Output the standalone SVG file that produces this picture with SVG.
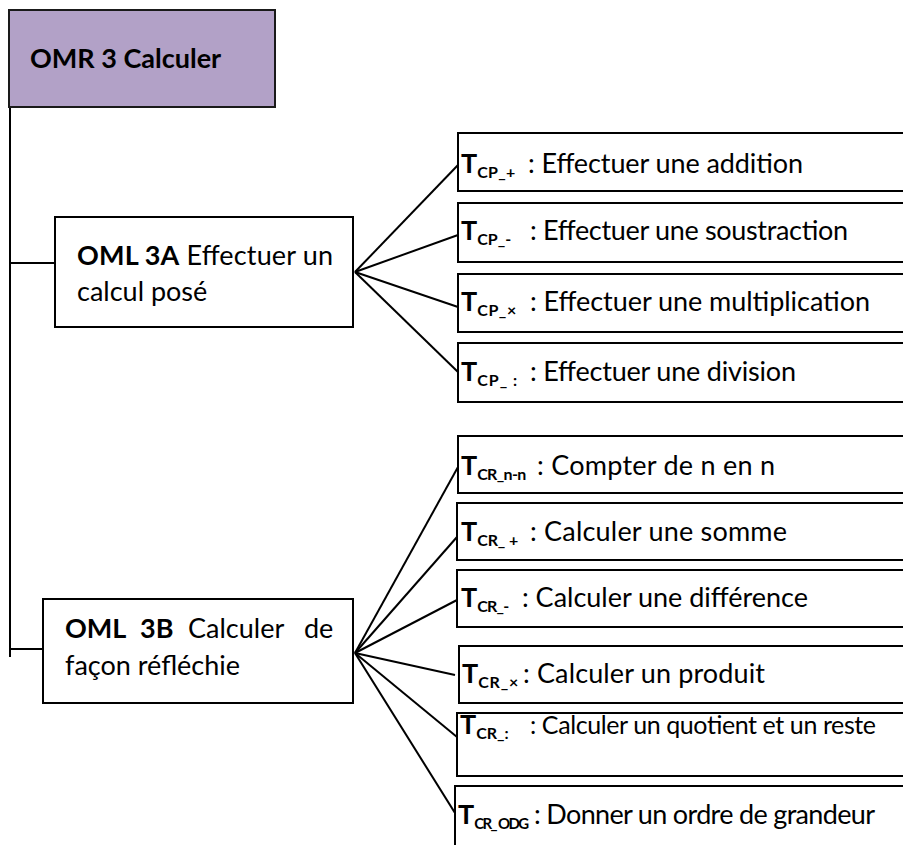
<svg xmlns="http://www.w3.org/2000/svg" width="903" height="845" viewBox="0 0 903 845">
<style>
.box{fill:#fff;stroke:#000;stroke-width:2}
.top{fill:#b2a1c7;stroke:#1a1a1a;stroke-width:2}
text{font-family:Lato,"Liberation Sans",sans-serif;font-size:27px;fill:#000}
.b{font-weight:bold}
.sub{font-size:16px;font-weight:bold}
.conn line{stroke:#000;stroke-width:2;fill:none}
</style>
<rect width="903" height="845" fill="#fff"/>
<g id="connectors" class="conn">
<line x1="10" y1="107" x2="10" y2="657"/>
<line x1="10" y1="263" x2="55" y2="263"/>
<line x1="10" y1="649" x2="43" y2="649"/>
<line x1="355" y1="272" x2="458" y2="165"/>
<line x1="355" y1="272" x2="458" y2="235"/>
<line x1="355" y1="272" x2="458" y2="307"/>
<line x1="355" y1="272" x2="458" y2="372"/>
<line x1="355" y1="653" x2="458" y2="467"/>
<line x1="355" y1="653" x2="457" y2="537"/>
<line x1="355" y1="653" x2="457" y2="600"/>
<line x1="355" y1="653" x2="455" y2="675"/>
<line x1="355" y1="653" x2="457" y2="737"/>
<line x1="355" y1="653" x2="455" y2="813"/>
</g>
<g id="omr3">
<rect class="top" x="9" y="10" width="266" height="97"/>
<text x="30" y="68" class="b">OMR 3 Calculer</text>
</g>
<g id="oml3a">
<rect class="box" x="55" y="217" width="298" height="110"/>
<text x="77" y="265" textLength="256"><tspan class="b">OML 3A</tspan> Effectuer un</text>
<text x="77" y="301">calcul posé</text>
</g>
<g id="oml3b">
<rect class="box" x="43" y="599" width="310" height="104"/>
<text y="638"><tspan class="b" x="65">OML</tspan><tspan class="b" x="140">3B</tspan><tspan x="188">Calculer</tspan><tspan x="304">de</tspan></text>
<text x="65" y="675">façon réfléchie</text>
</g>
<g id="tcp-add">
<rect class="box" x="458" y="133" width="470" height="58"/>
<text x="461" y="173"><tspan class="b">T</tspan><tspan class="sub" dy="5" textLength="38">CP_+</tspan><tspan x="528" dy="-5" textLength="275">: Effectuer une addition</tspan></text>
</g>
<g id="tcp-sub">
<rect class="box" x="458" y="203" width="470" height="59"/>
<text x="461" y="240"><tspan class="b">T</tspan><tspan class="sub" dy="5" textLength="34">CP_-</tspan><tspan x="530" dy="-5" textLength="318">: Effectuer une soustraction</tspan></text>
</g>
<g id="tcp-mul">
<rect class="box" x="458" y="274" width="470" height="58"/>
<text x="461" y="311"><tspan class="b">T</tspan><tspan class="sub" dy="5" textLength="39">CP_×</tspan><tspan x="530" dy="-5" textLength="340">: Effectuer une multiplication</tspan></text>
</g>
<g id="tcp-div">
<rect class="box" x="458" y="343" width="470" height="59"/>
<text x="461" y="381"><tspan class="b">T</tspan><tspan class="sub" dy="5" textLength="40">CP_ :</tspan><tspan x="530" dy="-5" textLength="266">: Effectuer une division</tspan></text>
</g>
<g id="tcr-nn">
<rect class="box" x="458" y="436" width="470" height="57"/>
<text x="461" y="475"><tspan class="b">T</tspan><tspan class="sub" dy="5" textLength="49">CR_n-n</tspan><tspan x="537" dy="-5" textLength="238">: Compter de n en n</tspan></text>
</g>
<g id="tcr-add">
<rect class="box" x="457" y="503" width="470" height="57"/>
<text x="461" y="541"><tspan class="b">T</tspan><tspan class="sub" dy="5" textLength="41">CR_ +</tspan><tspan x="530" dy="-5" textLength="257">: Calculer une somme</tspan></text>
</g>
<g id="tcr-sub">
<rect class="box" x="457" y="570" width="470" height="57"/>
<text x="461" y="607"><tspan class="b">T</tspan><tspan class="sub" dy="5" textLength="32">CR_-</tspan><tspan x="522" dy="-5" textLength="286">: Calculer une différence</tspan></text>
</g>
<g id="tcr-mul">
<rect class="box" x="459" y="646" width="470" height="57"/>
<text x="462" y="683"><tspan class="b">T</tspan><tspan class="sub" dy="5" textLength="40">CR_×</tspan><tspan x="523" dy="-5" textLength="242">: Calculer un produit</tspan></text>
</g>
<g id="tcr-div">
<rect class="box" x="457" y="713" width="470" height="63"/>
<text x="460" y="734"><tspan class="b">T</tspan><tspan class="sub" dy="5">CR_:</tspan><tspan x="530" dy="-5" textLength="346" style="font-size:25px">: Calculer un quotient et un reste</tspan></text>
</g>
<g id="tcr-odg">
<rect class="box" x="455" y="786" width="470" height="80"/>
<text x="458" y="824"><tspan class="b">T</tspan><tspan class="sub" dy="5" textLength="55" style="font-size:15px">CR_ ODG</tspan><tspan x="534" dy="-5" textLength="341">: Donner un ordre de grandeur</tspan></text>
</g>
</svg>
